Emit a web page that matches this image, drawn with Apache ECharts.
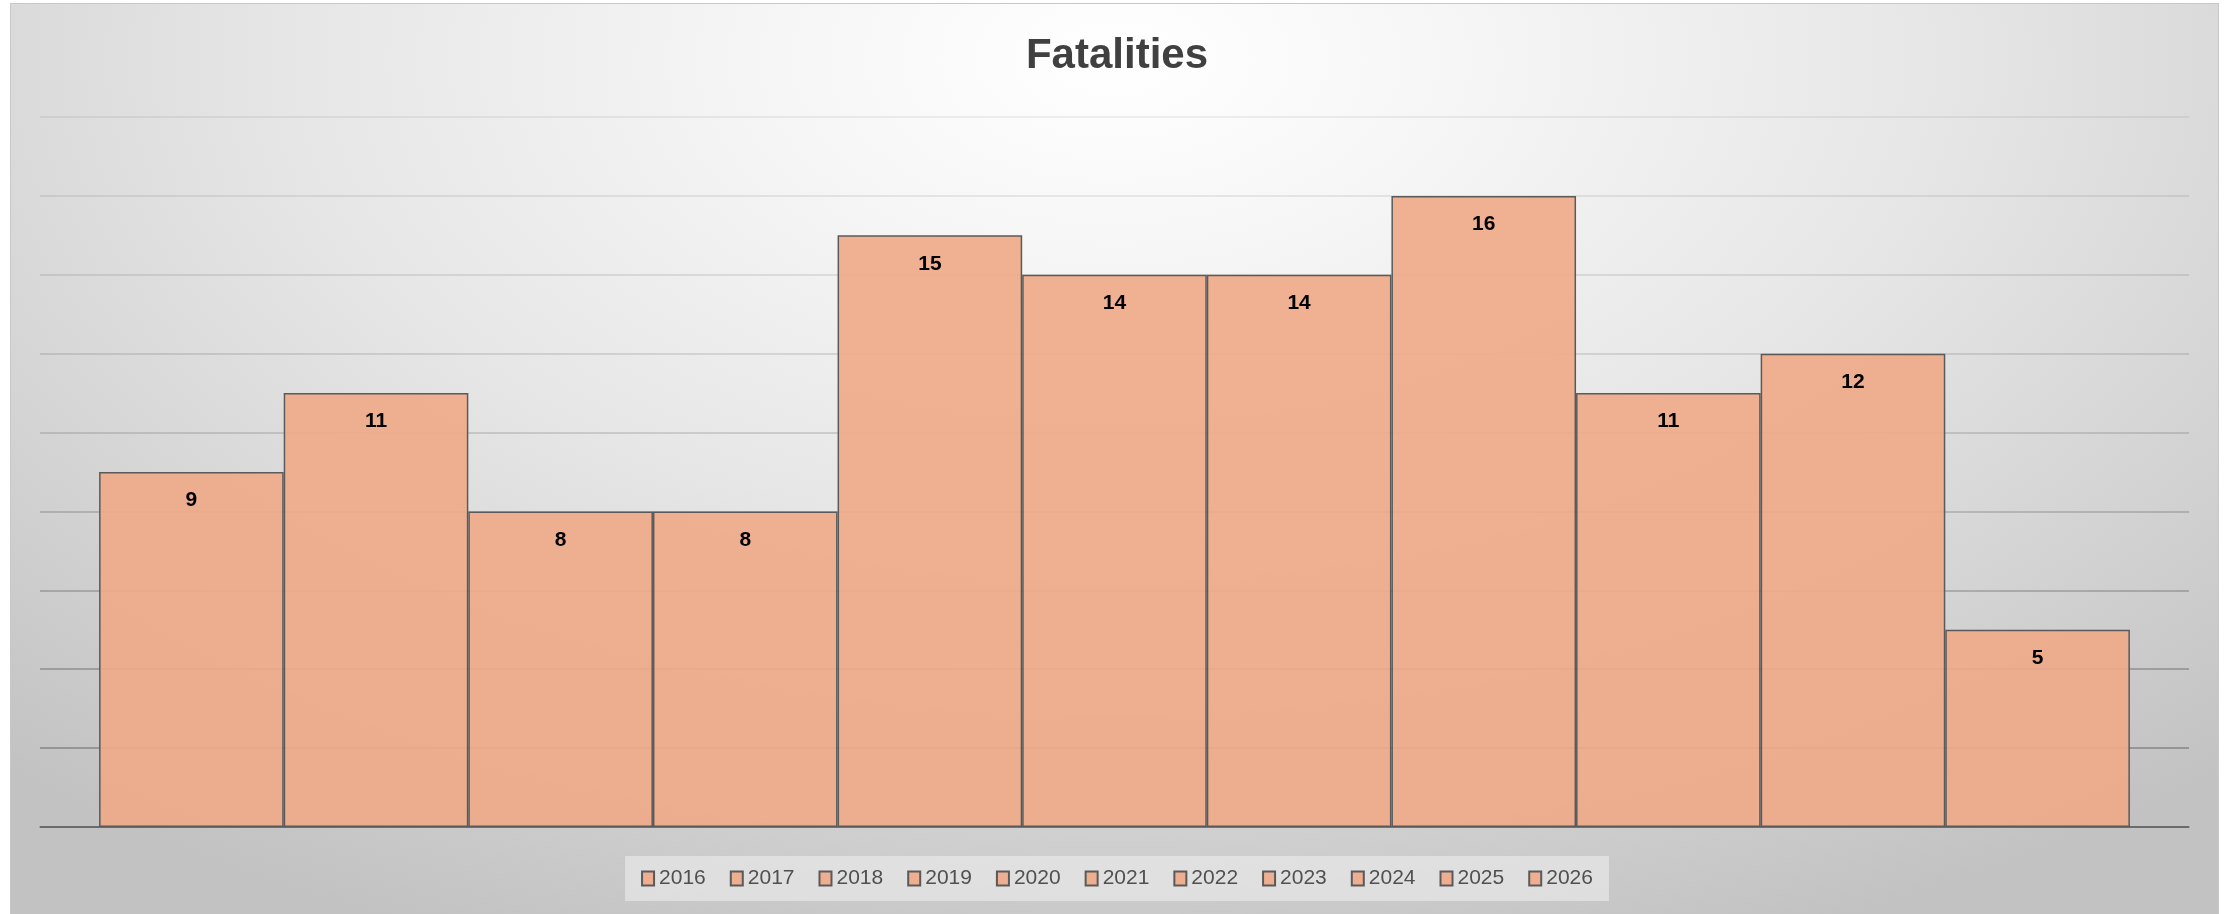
<!DOCTYPE html>
<html>
<head>
<meta charset="utf-8">
<script src="https://cdn.jsdelivr.net/npm/echarts@6/dist/echarts.min.js"></script>
<style>
html,body{margin:0;padding:0;background:#ffffff;width:2234px;height:914px;overflow:hidden;}
#bg{position:absolute;left:10px;top:3px;width:2209px;height:911px;
  background:radial-gradient(ellipse 75% 105% at 50% 6%, #ffffff 0%, #f6f6f6 20%, #e6e6e6 50%, #d2d2d2 78%, #c2c2c2 100%);
  border-top:1px solid #c8c8c8;border-left:1px solid #c8c8c8;border-right:1px solid #c8c8c8;box-sizing:border-box;}
#chart{position:absolute;left:0;top:0;width:2234px;height:914px;}
</style>
</head>
<body>
<div id="bg"></div>
<div id="chart"></div>
<script>
const years = ['2016','2017','2018','2019','2020','2021','2022','2023','2024','2025','2026'];
const fatalities = [9, 11, 8, 8, 15, 14, 14, 16, 11, 12, 5];
const categories = ['Fatalities'];
const yTicks = {min: 0, max: 18, interval: 2};

const chart = echarts.init(document.getElementById('chart'), null, {renderer: 'canvas'});
const barFill = 'rgba(240,170,135,0.9)';
const barBorder = '#5a5a5a';

const series = years.map((y, i) => ({
  name: y,
  type: 'bar',
  data: [fatalities[i]],
  barGap: '0%',
  barCategoryGap: '5.5%',
  itemStyle: {color: barFill, borderColor: barBorder, borderWidth: 1.5},
  label: {
    show: true,
    position: 'insideTop',
    distance: 18,
    color: '#000000',
    fontWeight: 'bold',
    fontSize: 21,
    fontFamily: 'Liberation Sans'
  },
  emphasis: {disabled: true}
}));

chart.setOption({
  backgroundColor: 'transparent',
  animation: false,
  title: {
    text: 'Fatalities',
    left: 'center',
    top: 30,
    textStyle: {fontFamily: 'Liberation Sans', fontSize: 42, fontWeight: 'bold', color: '#404040'}
  },
  legend: {
    data: years,
    bottom: 13,
    left: 'center',
    itemWidth: 12,
    itemHeight: 14,
    itemGap: 24,
    icon: 'rect',
    backgroundColor: 'rgba(240,240,240,0.55)',
    padding: [12, 16, 12, 16],
    textStyle: {fontFamily: 'Liberation Sans', fontSize: 21, color: '#505050'}
  },
  grid: {left: 40, right: 45, top: 117, bottom: 87, containLabel: false},
  xAxis: {
    type: 'category',
    data: categories,
    axisLabel: {show: false},
    axisTick: {show: false},
    axisLine: {show: true, lineStyle: {color: 'rgba(0,0,0,0.35)', width: 1.5}}
  },
  yAxis: {
    type: 'value',
    min: yTicks.min,
    max: yTicks.max,
    interval: yTicks.interval,
    axisLabel: {show: false},
    axisLine: {show: false},
    axisTick: {show: false},
    splitLine: {show: true, lineStyle: {
      color: ['rgba(0,0,0,0.34)','rgba(0,0,0,0.32)','rgba(0,0,0,0.29)','rgba(0,0,0,0.25)','rgba(0,0,0,0.21)',
              'rgba(0,0,0,0.17)','rgba(0,0,0,0.14)','rgba(0,0,0,0.12)','rgba(0,0,0,0.1)','rgba(0,0,0,0.08)'],
      width: 1.5}}
  },
  series: series
});
</script>
</body>
</html>
